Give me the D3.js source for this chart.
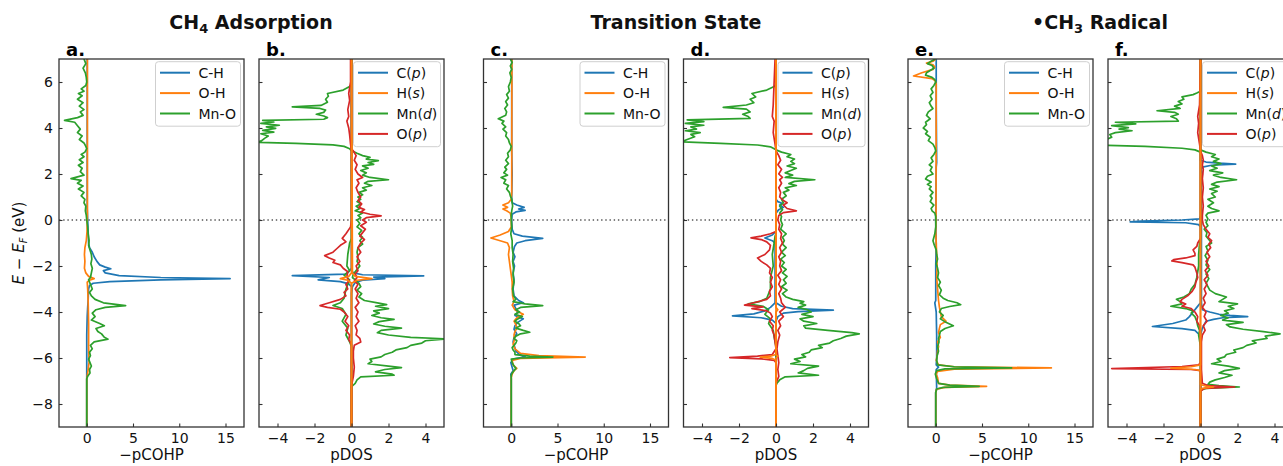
<!DOCTYPE html>
<html lang="en">
<head>
<meta charset="UTF-8">
<title>pCOHP and pDOS</title>
<script src="https://d3js.org/d3.v7.min.js"></script>
<style>
  body { margin: 0; background: #fff; }
  svg { display: block; font-family: "DejaVu Sans", sans-serif; }
</style>
</head>
<body>
<svg id="chart" width="1283" height="466"></svg>
<script>
// ---- axes / labels ----
const energyTicks = [-8, -6, -4, -2, 0, 2, 4, 6];
const cohpTicks = [0, 5, 10, 15];
const dosTicks = [-4, -2, 0, 2, 4];
const energyRange = [-9, 7];
const cohpRange = [-3, 17];
const dosRange = [-5, 5];
const panelLetters = ["a.", "b.", "c.", "d.", "e.", "f."];
const cohpLabels = ["C-H", "O-H", "Mn-O"];
const dosLabels = ["C", "H", "Mn", "O"];
const dosOrbitals = ["p", "s", "d", "p"];

// ---- CH4 adsorption: -pCOHP  [E, value] ----
const cohpAdsCH = [[7,0.05],[3,0.05],[0.5,0.05],[0,0.1],[-0.5,0.15],[-1,0.2],[-1.2,0.3],[-1.4,0.6],[-1.6,0.8],[-1.8,1.1],[-1.95,1.4],[-2.05,2],[-2.12,2.6],[-2.2,1.8],[-2.3,2],[-2.42,3.5],[-2.5,8],[-2.55,15.5],[-2.6,8],[-2.68,2.5],[-2.75,0.7],[-2.85,0.3],[-3,0.2],[-3.5,0.15],[-3.8,0.1],[-4.2,0.05],[-5,0],[-9,0]];
const cohpAdsOH = [[7,0.07],[0.3,0.07],[0,0.05],[-0.5,0.03],[-0.9,-0.05],[-1.2,-0.2],[-1.5,-0.25],[-1.8,-0.2],[-2.1,-0.25],[-2.3,-0.1],[-2.45,0.2],[-2.55,0.8],[-2.62,0.3],[-2.7,0.05],[-3,0.1],[-3.5,0.15],[-4.5,0.2],[-5.5,0.2],[-6.2,0.25],[-6.5,0.15],[-6.8,0.05],[-6.9,0],[-9,0]];
const cohpAdsMnO = [[7,-0.3],[6.8,-0.1],[6.6,-0.4],[6.4,-0.15],[6.2,-0.05],[6,0],[5.85,-0.1],[5.7,-0.6],[5.6,-0.3],[5.5,-0.9],[5.4,-0.5],[5.25,-1],[5.1,-0.4],[4.95,-0.8],[4.8,-0.3],[4.7,-0.7],[4.55,-0.4],[4.45,-1],[4.33,-2.4],[4.25,-1.3],[4.1,-1],[3.95,-0.7],[3.8,-1],[3.65,-0.5],[3.5,-0.8],[3.35,-0.3],[3.2,-0.1],[3.1,0],[2.95,-0.2],[2.85,-0.6],[2.75,-0.3],[2.62,-0.8],[2.5,-0.4],[2.38,-0.9],[2.25,-0.5],[2.1,-0.7],[1.95,-0.3],[1.8,-1.7],[1.72,-0.6],[1.6,-1],[1.48,-0.4],[1.35,-0.9],[1.2,-0.3],[1.05,-0.6],[0.9,-0.2],[0.75,-0.3],[0.6,-0.1],[0.4,-0.15],[0.2,-0.05],[0,0],[-0.3,0.1],[-0.6,0.15],[-0.9,0.25],[-1.1,0.2],[-1.3,0.35],[-1.5,0.5],[-1.7,0.55],[-1.9,0.45],[-2.1,0.6],[-2.3,0.5],[-2.5,0.4],[-2.6,0.2],[-2.8,0.4],[-3,0.6],[-3.15,0.3],[-3.3,0.5],[-3.45,0.9],[-3.6,1.8],[-3.72,4.2],[-3.8,2],[-3.9,1],[-4.05,0.6],[-4.2,0.9],[-4.35,0.5],[-4.5,1.4],[-4.6,1.9],[-4.72,1],[-4.85,1.2],[-4.95,1.6],[-5.1,1.9],[-5.18,2.3],[-5.3,0.8],[-5.45,0.4],[-5.6,0.6],[-5.75,0.3],[-5.9,0.4],[-6.05,0.2],[-6.2,0.35],[-6.35,0.5],[-6.5,0.3],[-6.65,0.35],[-6.8,0.1],[-6.9,0],[-9,0]];

// ---- CH4 adsorption: pDOS (spin up > 0, spin down < 0) ----
const dosAdsCUp = [[7,0],[-2.2,0],[-2.3,0.1],[-2.38,0.6],[-2.43,3.9],[-2.48,1.2],[-2.55,1.8],[-2.62,0.6],[-2.72,0.2],[-2.9,0.05],[-3.2,0],[-9,0]];
const dosAdsCDown = [[7,0],[-2.1,0],[-2.25,-0.15],[-2.35,-0.3],[-2.42,-3.2],[-2.5,-1.2],[-2.6,-1.8],[-2.68,-0.6],[-2.78,-0.15],[-2.9,0],[-9,0]];
const dosAdsHUp = [[7,0],[-2,0.05],[-2.3,0.05],[-2.45,0.2],[-2.55,1.1],[-2.62,0.3],[-2.75,0],[-9,0]];
const dosAdsHDown = [[7,0],[-2.3,0],[-2.45,-0.15],[-2.55,-0.6],[-2.62,-0.2],[-2.75,0],[-9,0]];
const dosAdsMnUp = [[7,0],[3.1,0],[3,0.05],[2.9,0.3],[2.8,0.6],[2.72,1],[2.65,0.8],[2.58,1.45],[2.5,0.9],[2.42,1.2],[2.35,0.6],[2.25,0.9],[2.15,0.5],[2.05,0.8],[1.95,0.6],[1.85,1],[1.75,2],[1.68,0.9],[1.6,0.7],[1.5,1.1],[1.4,0.6],[1.3,0.8],[1.2,0.4],[1.1,0.6],[1,0.35],[0.9,0.5],[0.8,0.3],[0.7,0.5],[0.6,0.25],[0.5,0.45],[0.4,0.2],[0.3,0.6],[0.2,0.35],[0.1,0.5],[0,0.3],[-0.15,0.45],[-0.3,0.3],[-0.45,0.55],[-0.6,0.4],[-0.75,0.6],[-0.9,0.45],[-1.05,0.6],[-1.2,0.35],[-1.4,0.3],[-1.6,0.35],[-1.8,0.3],[-2,0.45],[-2.2,0.25],[-2.35,0.1],[-2.5,0.05],[-2.6,0.2],[-2.75,0.4],[-2.9,0.5],[-3.05,0.3],[-3.2,0.55],[-3.35,0.4],[-3.5,0.7],[-3.6,1.4],[-3.68,1.9],[-3.75,1.3],[-3.85,2],[-3.95,1.2],[-4.05,1.5],[-4.15,1.1],[-4.25,1.6],[-4.32,2.3],[-4.42,1.5],[-4.52,1.2],[-4.62,1.8],[-4.7,2.7],[-4.8,1.6],[-4.9,1.4],[-5,2],[-5.1,3.2],[-5.17,5.2],[-5.25,4],[-5.35,3.8],[-5.45,3.2],[-5.55,3],[-5.65,2.4],[-5.75,2.2],[-5.85,1.8],[-5.95,1.6],[-6.05,1],[-6.15,1.1],[-6.25,0.9],[-6.35,2],[-6.42,2.7],[-6.5,1.8],[-6.6,1.3],[-6.7,2.2],[-6.75,2.3],[-6.82,0.5],[-6.95,0.3],[-7.1,0.2],[-7.25,0],[-9,0]];
const dosAdsMnDown = [[7,0],[5.9,0],[5.8,-0.1],[5.65,-0.45],[5.5,-1.3],[5.38,-1.25],[5.25,-1.4],[5.12,-1.3],[4.98,-1.65],[4.92,-3.2],[4.85,-1.7],[4.78,-1.4],[4.68,-1.5],[4.6,-1.9],[4.52,-1.5],[4.45,-1.3],[4.38,-1.5],[4.33,-4.8],[4.26,-4.2],[4.2,-4.9],[4.12,-3.9],[4.05,-4.6],[3.98,-4.1],[3.9,-4.8],[3.82,-4.2],[3.75,-4.9],[3.65,-4.5],[3.55,-4.7],[3.45,-4.85],[3.38,-5.1],[3.33,-3],[3.27,-1],[3.2,-0.4],[3.1,-0.1],[3,0],[-0.8,0],[-1,-0.1],[-1.5,-0.2],[-2,-0.25],[-2.2,-0.1],[-2.4,-0.4],[-2.6,-0.1],[-3,-0.3],[-3.4,-0.4],[-3.6,-0.6],[-3.72,-1],[-3.85,-0.5],[-4.1,-0.3],[-4.4,-0.5],[-4.7,-0.2],[-5,-0.3],[-5.3,-0.1],[-5.5,0],[-9,0]];
const dosAdsOUp = [[7,0],[3.1,0],[3,0.1],[2.8,0.25],[2.6,0.15],[2.4,0.3],[2.2,0.2],[2,0.35],[1.85,0.6],[1.75,0.3],[1.6,0.4],[1.4,0.25],[1.2,0.35],[1,0.5],[0.85,0.35],[0.7,0.55],[0.55,0.4],[0.45,0.7],[0.35,0.5],[0.25,1],[0.18,1.6],[0.1,0.8],[0,0.6],[-0.1,0.8],[-0.25,0.5],[-0.4,0.75],[-0.55,0.6],[-0.7,0.45],[-0.85,0.7],[-1,0.5],[-1.2,0.35],[-1.4,0.5],[-1.6,0.3],[-1.8,0.45],[-2,0.25],[-2.2,0.35],[-2.35,0.2],[-2.5,0.3],[-2.65,0.15],[-2.8,0.35],[-3,0.2],[-3.2,0.35],[-3.4,0.25],[-3.6,0.4],[-3.8,0.2],[-4,0.35],[-4.2,0.25],[-4.4,0.4],[-4.6,0.2],[-4.8,0.3],[-5,0.25],[-5.15,0.45],[-5.3,0.5],[-5.45,0.15],[-5.7,0.1],[-6,0.1],[-6.4,0.15],[-6.8,0.1],[-7.2,0],[-9,0]];
const dosAdsODown = [[7,-0.05],[6,-0.05],[5.5,-0.15],[5.2,-0.1],[4.8,-0.2],[4.5,-0.15],[4.3,-0.25],[4,-0.15],[3.7,-0.1],[3.3,-0.05],[3,0],[0,0],[-0.3,-0.05],[-0.6,-0.3],[-0.8,-0.5],[-0.95,-0.3],[-1.1,-0.6],[-1.25,-0.8],[-1.4,-1],[-1.55,-1.45],[-1.65,-1.2],[-1.75,-0.9],[-1.85,-1],[-1.95,-0.6],[-2.1,-0.45],[-2.25,-0.2],[-2.45,-0.25],[-2.65,-0.15],[-2.8,-0.3],[-3,-0.2],[-3.15,-0.4],[-3.3,-0.3],[-3.45,-0.6],[-3.6,-1.2],[-3.72,-1.7],[-3.8,-1.3],[-3.88,-0.6],[-4,-0.4],[-4.2,-0.2],[-4.4,-0.35],[-4.6,-0.15],[-4.8,-0.3],[-5,-0.1],[-5.2,-0.15],[-5.4,0],[-9,0]];

// ---- transition state: -pCOHP ----
const cohpTsCH = [[7,0.05],[3,0.05],[2,0.1],[1,0.05],[0.75,0.1],[0.65,0.6],[0.55,1.4],[0.48,0.8],[0.42,1.5],[0.35,0.5],[0.25,0.1],[0,0.05],[-0.4,0.1],[-0.6,0.3],[-0.7,1.2],[-0.8,3.4],[-0.9,1.5],[-1,0.6],[-1.15,0.35],[-1.4,0.2],[-1.6,0.4],[-1.8,0.2],[-2,0.35],[-2.3,0.2],[-2.6,0.3],[-3,0.2],[-3.3,0.3],[-3.5,0.8],[-3.6,1.3],[-3.7,0.3],[-3.85,0.5],[-4,0.7],[-4.15,0.4],[-4.3,1.3],[-4.45,0.7],[-4.6,0.4],[-4.75,0.3],[-4.95,0.6],[-5.1,0.3],[-5.3,0.2],[-5.5,0.35],[-5.7,0.5],[-5.85,0.9],[-5.95,1.5],[-6.05,0.2],[-6.2,-0.05],[-6.4,0.1],[-6.55,0.2],[-6.7,-0.05],[-6.9,0],[-9,0]];
const cohpTsOH = [[7,0.07],[1.2,0.05],[0.9,0],[0.75,-0.3],[0.65,-0.9],[0.55,-0.4],[0.48,-0.9],[0.4,-0.5],[0.3,-0.1],[0.1,0],[-0.3,0],[-0.5,-0.3],[-0.65,-1.2],[-0.78,-2.2],[-0.9,-1.2],[-1,-0.4],[-1.2,-0.2],[-1.5,-0.3],[-1.8,-0.2],[-2.1,-0.1],[-2.4,0],[-2.7,0.1],[-3,0.1],[-3.3,0.15],[-3.55,0.3],[-3.7,0.1],[-3.9,0.4],[-4,0.8],[-4.1,1.3],[-4.25,0.6],[-4.4,0.3],[-4.55,0.5],[-4.7,0.6],[-4.85,0.4],[-5,0.3],[-5.2,0.35],[-5.4,0.2],[-5.6,0.4],[-5.8,1],[-5.9,3],[-5.96,8],[-6.02,1],[-6.1,0.1],[-6.3,0.2],[-6.45,0.6],[-6.55,0.3],[-6.7,0.1],[-6.85,0],[-9,0]];
const cohpTsMnO = [[7,-0.1],[6.85,0.1],[6.7,-0.1],[6.55,0.05],[6.4,-0.15],[6.2,0],[6,-0.1],[5.8,-0.3],[5.6,-0.2],[5.45,-0.5],[5.3,-0.3],[5.15,-0.6],[5,-0.4],[4.85,-0.7],[4.7,-0.5],[4.55,-0.6],[4.4,-1.4],[4.3,-0.8],[4.2,-1],[4.05,-0.6],[3.95,-0.9],[3.8,-0.5],[3.65,-0.6],[3.5,-0.3],[3.35,-0.2],[3.2,0],[3.05,-0.1],[2.9,-0.4],[2.75,-0.3],[2.6,-0.6],[2.45,-0.3],[2.3,-0.7],[2.2,-0.5],[2.05,-0.8],[1.95,-0.4],[1.85,-1.1],[1.75,-0.6],[1.6,-0.8],[1.5,-0.3],[1.35,-0.5],[1.2,-0.2],[1.05,-0.1],[0.9,0.05],[0.75,0.1],[0.6,0.15],[0.4,0.05],[0.2,0],[0,0],[-0.3,0.05],[-0.6,-0.05],[-0.9,0.1],[-1.2,0.1],[-1.5,0.2],[-1.8,0.15],[-2.1,0.25],[-2.4,0.2],[-2.7,0.3],[-3,0.15],[-3.3,0.25],[-3.45,0.5],[-3.55,0.2],[-3.65,1.5],[-3.72,3.4],[-3.8,1],[-3.9,0.5],[-4,0.9],[-4.1,0.4],[-4.2,1.2],[-4.3,0.7],[-4.4,0.4],[-4.5,0.8],[-4.6,1],[-4.7,0.5],[-4.8,1.3],[-4.88,2],[-4.95,1],[-5.05,0.5],[-5.15,0.3],[-5.25,0.6],[-5.35,0.5],[-5.45,0.3],[-5.55,0.1],[-5.65,0.2],[-5.75,0.4],[-5.85,0.4],[-5.92,2],[-5.96,4.5],[-6,1],[-6.05,0],[-6.2,0.1],[-6.35,0.3],[-6.45,0.5],[-6.55,0.3],[-6.65,0.1],[-6.75,0],[-9,0]];

// ---- transition state: pDOS ----
const dosTsCUp = [[7,0],[0.9,0],[0.8,0.1],[0.72,0.35],[0.65,0.2],[0.55,0.4],[0.45,0.15],[0.3,0],[-3.6,0],[-3.75,0.3],[-3.85,0.9],[-3.92,3.1],[-3.98,1.2],[-4.05,0.4],[-4.2,0.1],[-4.4,0],[-9,0]];
const dosTsCDown = [[7,0],[-0.5,0],[-0.65,-0.2],[-0.78,-0.6],[-0.9,-0.2],[-1,-0.05],[-3.6,-0.05],[-3.8,-0.3],[-3.95,-0.6],[-4.08,-1.2],[-4.17,-2.35],[-4.25,-0.8],[-4.35,-0.2],[-4.5,0],[-9,0]];
const dosTsHUp = [[7,0],[-3.8,0],[-3.9,0.1],[-4,0],[-5.85,0],[-5.92,0.1],[-6,0],[-9,0]];
const dosTsHDown = [[7,0],[-5.85,0],[-5.92,-0.3],[-5.96,-0.85],[-6.02,-0.2],[-6.1,0],[-9,0]];
const dosTsMnUp = [[7,0],[3.05,0],[2.95,0.3],[2.85,0.8],[2.75,0.6],[2.65,1],[2.55,0.8],[2.45,1],[2.35,0.6],[2.25,1.1],[2.15,0.8],[2.05,0.5],[1.95,0.9],[1.85,0.5],[1.75,2.1],[1.68,1],[1.58,0.7],[1.5,1.1],[1.4,0.5],[1.3,0.7],[1.2,0.4],[1.05,0.55],[0.9,0.3],[0.75,0.4],[0.6,0.2],[0.45,0.35],[0.3,0.2],[0.15,0.3],[0,0.25],[-0.2,0.35],[-0.4,0.25],[-0.6,0.55],[-0.75,0.35],[-0.9,0.45],[-1.05,0.35],[-1.2,0.55],[-1.4,0.3],[-1.55,0.5],[-1.7,0.25],[-1.85,0.45],[-2,0.3],[-2.15,0.55],[-2.3,0.35],[-2.45,0.6],[-2.6,0.4],[-2.75,0.55],[-2.9,0.3],[-3.05,0.6],[-3.2,0.35],[-3.35,0.55],[-3.45,0.9],[-3.55,1.5],[-3.62,1.3],[-3.7,1.6],[-3.8,1.2],[-3.9,1.7],[-4,1.9],[-4.1,1.4],[-4.2,2],[-4.3,1.3],[-4.4,1.5],[-4.5,2.2],[-4.6,1.5],[-4.7,1.6],[-4.8,2.8],[-4.9,4.1],[-4.95,4.5],[-5.05,3.8],[-5.15,3.5],[-5.25,3.1],[-5.35,2.9],[-5.45,2.3],[-5.55,2.5],[-5.65,1.9],[-5.75,1.8],[-5.85,1.4],[-5.95,1.6],[-6.05,1],[-6.15,1.3],[-6.25,0.8],[-6.35,2.3],[-6.45,1.7],[-6.55,1.5],[-6.65,1.2],[-6.75,2.3],[-6.82,0.5],[-6.95,0.2],[-7.1,0.05],[-7.2,0],[-9,0]];
const dosTsMnDown = [[7,0],[5.9,0],[5.8,-0.1],[5.65,-0.5],[5.5,-1.3],[5.35,-1.1],[5.25,-1.4],[5.1,-1.2],[5,-1.6],[4.9,-2.85],[4.82,-1.6],[4.7,-1.4],[4.6,-1.8],[4.5,-1.5],[4.42,-1.4],[4.35,-4.8],[4.28,-3.9],[4.2,-4.9],[4.12,-3.9],[4.05,-4.6],[3.95,-4.3],[3.88,-4.9],[3.8,-4.1],[3.72,-4.6],[3.62,-4.4],[3.5,-4.8],[3.4,-5.1],[3.33,-3],[3.26,-1],[3.18,-0.3],[3.05,0],[-0.6,0],[-0.7,-0.05],[-1,-0.1],[-1.5,-0.2],[-2,-0.15],[-2.5,-0.3],[-3,-0.3],[-3.4,-0.5],[-3.55,-0.9],[-3.65,-1.5],[-3.75,-0.7],[-3.9,-0.4],[-4.1,-0.6],[-4.3,-0.3],[-4.5,-0.4],[-4.8,-0.15],[-5.1,-0.1],[-5.5,0],[-9,0]];
const dosTsOUp = [[7,0],[3,0],[2.8,0.15],[2.6,0.25],[2.4,0.1],[2.2,0.3],[2,0.15],[1.85,0.35],[1.75,0.2],[1.6,0.3],[1.4,0.15],[1.2,0.25],[1,0.2],[0.85,0.4],[0.75,0.6],[0.65,0.4],[0.5,0.6],[0.4,1.1],[0.32,0.4],[0.2,0.15],[0,0.1],[-0.2,0.2],[-0.4,0.15],[-0.6,0.3],[-0.8,0.25],[-1,0.35],[-1.2,0.2],[-1.4,0.3],[-1.6,0.15],[-1.8,0.25],[-2,0.2],[-2.2,0.3],[-2.4,0.1],[-2.6,0.25],[-2.8,0.15],[-3,0.3],[-3.2,0.15],[-3.4,0.25],[-3.6,0.3],[-3.8,0.5],[-4,0.2],[-4.2,0.4],[-4.4,0.15],[-4.6,0.25],[-4.8,0.1],[-5,0.2],[-5.3,0.1],[-5.6,0.05],[-5.9,0.1],[-6.2,0.15],[-6.5,0.1],[-6.8,0.15],[-7.1,0],[-9,0]];
const dosTsODown = [[7,-0.05],[5,-0.15],[4.5,-0.2],[4.3,-0.1],[3.8,-0.15],[3.3,-0.05],[3,0],[-0.5,0],[-0.6,-0.3],[-0.7,-0.8],[-0.78,-1.35],[-0.85,-0.8],[-0.95,-0.5],[-1.1,-0.3],[-1.3,-0.35],[-1.5,-0.6],[-1.65,-1],[-1.8,-0.8],[-1.95,-0.5],[-2.1,-0.3],[-2.3,-0.35],[-2.5,-0.2],[-2.7,-0.3],[-2.9,-0.2],[-3.1,-0.35],[-3.3,-0.3],[-3.45,-0.5],[-3.6,-1.2],[-3.7,-1.7],[-3.78,-0.7],[-3.85,-1.3],[-3.95,-0.5],[-4.05,-0.3],[-4.2,-0.2],[-4.4,-0.35],[-4.6,-0.15],[-4.8,-0.2],[-5,-0.1],[-5.3,-0.05],[-5.6,0],[-5.85,-0.2],[-5.92,-1],[-5.98,-2.5],[-6.04,-0.8],[-6.1,-0.1],[-6.2,0],[-9,0]];

// ---- CH3 radical: -pCOHP ----
const cohpRadCH = [[7,0.05],[5,0.05],[2.5,0.1],[2.3,0.05],[0,0],[-1,0.05],[-2,0],[-3.5,0],[-3.6,-0.1],[-4,0.05],[-5,0.1],[-6,0.1],[-6.3,0.05],[-6.4,0.3],[-6.5,0.05],[-7.3,0.1],[-7.5,0],[-9,0]];
const cohpRadOH = [[7,0],[6.9,-0.3],[6.82,-1],[6.75,-0.3],[6.65,-0.1],[6.55,-0.3],[6.4,-1.5],[6.26,-2.4],[6.15,-0.4],[6.05,-0.05],[5.9,0.05],[0,0.03],[-0.5,0],[-1,0.05],[-1.5,0.1],[-2,0.15],[-2.5,0.1],[-3,0.2],[-3.5,0.3],[-3.8,0.4],[-4.2,0.6],[-4.4,1.1],[-4.55,0.5],[-4.7,0.4],[-4.9,0.3],[-5.1,0.5],[-5.3,0.2],[-5.5,0.3],[-5.7,0.2],[-5.9,0.15],[-6.1,0.05],[-6.3,0.3],[-6.38,2],[-6.43,12.5],[-6.48,2],[-6.58,0.2],[-6.7,0.05],[-6.85,0.2],[-7.1,0.3],[-7.18,1.5],[-7.23,5.5],[-7.28,1],[-7.35,0.1],[-7.5,0],[-9,0]];
const cohpRadMnO = [[7,-0.05],[6.9,-0.5],[6.8,-0.9],[6.72,-0.4],[6.6,-0.2],[6.5,-0.6],[6.4,-1],[6.3,-1.1],[6.2,-0.4],[6.1,-0.1],[6,0],[5.85,-0.2],[5.7,-0.5],[5.55,-0.3],[5.4,-0.6],[5.25,-0.4],[5.1,-0.7],[4.95,-0.5],[4.85,-0.3],[4.7,-0.8],[4.55,-1],[4.4,-0.6],[4.25,-1.1],[4.15,-1],[4,-1.35],[3.85,-0.9],[3.75,-1.1],[3.6,-0.6],[3.45,-0.8],[3.3,-0.3],[3.15,-0.1],[3,0],[2.85,-0.2],[2.7,-0.5],[2.55,-0.3],[2.4,-0.7],[2.3,-0.4],[2.15,-0.6],[2,-0.3],[1.9,-0.9],[1.78,-1.1],[1.65,-0.5],[1.55,-0.9],[1.45,-0.5],[1.35,-0.7],[1.2,-0.3],[1.05,-0.6],[0.95,-0.4],[0.8,-0.6],[0.65,-0.2],[0.5,-0.5],[0.4,-0.4],[0.3,-0.1],[0.15,0],[0,0],[-0.3,0],[-0.6,-0.1],[-0.9,-0.3],[-1.1,-0.15],[-1.3,0.05],[-1.5,0.1],[-1.7,0.2],[-1.9,0.05],[-2.1,0.2],[-2.3,0.3],[-2.5,0.2],[-2.7,0.5],[-2.85,0.3],[-3.05,0.6],[-3.25,0.4],[-3.4,0.8],[-3.5,1.3],[-3.6,2.3],[-3.68,2.7],[-3.76,1.5],[-3.85,0.6],[-4,0.4],[-4.15,0.8],[-4.3,0.5],[-4.45,1.1],[-4.6,1.9],[-4.72,1],[-4.85,0.5],[-5,0.4],[-5.15,0.3],[-5.3,0.35],[-5.5,0.2],[-5.7,0.3],[-5.9,0.15],[-6.1,0.1],[-6.3,0.2],[-6.38,2],[-6.43,8.2],[-6.47,1],[-6.55,0.1],[-6.7,-0.05],[-6.9,0.1],[-7.1,0.3],[-7.18,1.5],[-7.23,4.7],[-7.28,0.8],[-7.35,0.1],[-7.5,0],[-9,0]];

// ---- CH3 radical: pDOS ----
const dosRadCUp = [[7,0],[2.6,0],[2.52,0.3],[2.47,1],[2.43,1.9],[2.38,0.6],[2.3,0.1],[2.2,0.05],[2,0.1],[1.6,0.05],[0,0.05],[-3.6,0.05],[-3.9,0.1],[-4,0.5],[-4.1,1],[-4.15,1.6],[-4.2,2.55],[-4.25,1.2],[-4.32,0.7],[-4.4,0.3],[-4.55,0.2],[-4.7,0.1],[-5,0],[-9,0]];
const dosRadCDown = [[7,0],[0.2,0],[0.05,-0.05],[0,-1],[-0.05,-3.2],[-0.08,-3.8],[-0.12,-0.8],[-0.2,-0.1],[-0.3,0],[-3.6,0],[-3.8,-0.2],[-4,-0.4],[-4.2,-0.6],[-4.35,-0.8],[-4.5,-1.5],[-4.63,-2.6],[-4.72,-1],[-4.8,-0.3],[-5,-0.05],[-5.2,0],[-9,0]];
const dosRadHUp = [[7,0],[-7.15,0],[-7.22,0.3],[-7.26,0.7],[-7.32,0.1],[-7.4,0],[-9,0]];
const dosRadHDown = [[7,0],[-6.3,0],[-6.38,-0.5],[-6.44,-1.6],[-6.5,-0.3],[-6.55,0],[-9,0]];
const dosRadMnUp = [[7,0],[3.05,0],[2.95,0.3],[2.85,0.8],[2.75,0.6],[2.65,1],[2.55,0.7],[2.45,1.1],[2.35,0.6],[2.25,0.9],[2.15,0.5],[2.05,1.2],[1.95,0.7],[1.85,1.1],[1.75,1.95],[1.65,0.9],[1.55,0.6],[1.45,1],[1.35,0.5],[1.25,0.9],[1.15,0.6],[1,0.8],[0.9,0.4],[0.75,0.7],[0.6,0.4],[0.5,0.6],[0.4,1],[0.3,0.4],[0.2,0.3],[0.05,0.4],[-0.1,0.3],[-0.25,0.4],[-0.4,0.2],[-0.55,0.35],[-0.7,0.3],[-0.85,0.45],[-1,0.6],[-1.15,0.3],[-1.35,0.4],[-1.55,0.25],[-1.75,0.4],[-1.95,0.3],[-2.15,0.5],[-2.35,0.3],[-2.55,0.45],[-2.75,0.3],[-2.9,0.4],[-3.05,0.5],[-3.2,0.8],[-3.35,1.4],[-3.45,1.2],[-3.55,1],[-3.65,2],[-3.75,1.5],[-3.85,1.8],[-3.95,1.3],[-4.05,1.5],[-4.15,1.1],[-4.25,1.5],[-4.35,1.2],[-4.45,2.3],[-4.55,1.4],[-4.65,1.6],[-4.75,2.3],[-4.85,3.4],[-4.95,4.3],[-5.05,3.5],[-5.15,3.6],[-5.25,2.8],[-5.35,3],[-5.45,2.5],[-5.55,2.3],[-5.65,1.8],[-5.75,1.9],[-5.85,1.4],[-5.95,1.3],[-6.05,0.9],[-6.15,1.1],[-6.25,0.6],[-6.35,1.5],[-6.45,2.1],[-6.55,1.3],[-6.65,1],[-6.75,1.7],[-6.85,1.3],[-6.95,0.8],[-7.05,0.5],[-7.15,0.4],[-7.2,1],[-7.26,2.1],[-7.32,0.3],[-7.4,0],[-9,0]];
const dosRadMnDown = [[7,0],[5.6,0],[5.52,-0.2],[5.45,-0.4],[5.35,-1],[5.25,-0.9],[5.15,-1.2],[5.05,-1],[4.95,-1.4],[4.85,-1.1],[4.75,-2.35],[4.68,-1.4],[4.6,-1.2],[4.5,-1.6],[4.4,-1.3],[4.3,-1.2],[4.25,-4.6],[4.18,-3.5],[4.1,-4.8],[4.02,-3.9],[3.95,-4.4],[3.88,-3.7],[3.8,-4.6],[3.72,-4.9],[3.6,-4.8],[3.5,-5.1],[3.35,-5.1],[3.25,-5.1],[3.2,-3],[3.12,-1],[3.05,-0.3],[2.95,0],[-0.8,0],[-1,-0.05],[-1.5,-0.1],[-2,-0.1],[-2.5,-0.2],[-2.8,-0.3],[-3,-0.5],[-3.2,-0.6],[-3.35,-0.9],[-3.45,-1.3],[-3.55,-1.1],[-3.65,-1],[-3.75,-1.6],[-3.85,-0.8],[-3.95,-0.4],[-4.05,-0.5],[-4.2,-0.3],[-4.4,-0.2],[-4.6,-0.15],[-4.8,-0.05],[-5,-0.1],[-5.5,0],[-9,0]];
const dosRadOUp = [[7,0],[3,0],[2.8,0.1],[2.6,0.15],[2.4,0.1],[2.2,0.15],[1.8,0.1],[1.4,0.15],[1,0.1],[0.6,0.15],[0.2,0.1],[0,0.1],[-0.2,0.15],[-0.4,0.3],[-0.6,0.5],[-0.75,0.4],[-0.9,0.6],[-1.05,0.45],[-1.2,0.55],[-1.4,0.35],[-1.6,0.5],[-1.8,0.3],[-2,0.45],[-2.2,0.25],[-2.4,0.4],[-2.6,0.2],[-2.8,0.35],[-3,0.2],[-3.2,0.3],[-3.4,0.15],[-3.6,0.25],[-3.8,0.1],[-4,0.3],[-4.2,0.2],[-4.4,0.35],[-4.6,0.15],[-4.8,0.25],[-5,0.1],[-5.3,0.05],[-6,0.05],[-6.5,0.05],[-7.1,0.1],[-7.2,0.4],[-7.26,1.85],[-7.32,0.2],[-7.45,0],[-9,0]];
const dosRadODown = [[7,0],[5,-0.05],[4.5,-0.15],[4.2,-0.1],[3.8,-0.15],[3.3,-0.05],[3,0],[-0.8,0],[-1,-0.15],[-1.15,-0.2],[-1.3,-0.4],[-1.45,-0.3],[-1.55,-0.3],[-1.65,-0.8],[-1.72,-1.45],[-1.78,-1.55],[-1.85,-1],[-1.95,-0.4],[-2.05,-0.3],[-2.3,-0.2],[-2.5,-0.15],[-2.7,-0.25],[-2.9,-0.3],[-3.1,-0.45],[-3.3,-0.7],[-3.45,-1],[-3.55,-1.1],[-3.65,-0.8],[-3.75,-1],[-3.85,-0.5],[-4,-0.3],[-4.2,-0.15],[-4.4,-0.2],[-4.6,-0.05],[-5,0],[-6.2,0],[-6.3,-0.1],[-6.37,-1],[-6.46,-4.8],[-6.5,-0.5],[-6.55,0],[-9,0]];

// ---- layout ----
const svg = d3.select("#chart");
const panelTop = 59, panelBottom = 427, panelWidth = 185;
const panelLefts = [59, 259, 483.5, 683.5, 908, 1108];
const colors = { C: "#1f77b4", H: "#ff7f0e", Mn: "#2ca02c", O: "#d62728" };
const frameColor = "#333";
const textColor = "#111";

const y = d3.scaleLinear().domain(energyRange).range([panelBottom, panelTop]);

const panels = [
  { kind: "cohp", series: [cohpAdsCH, cohpAdsOH, cohpAdsMnO] },
  { kind: "dos", up: [dosAdsCUp, dosAdsHUp, dosAdsMnUp, dosAdsOUp], down: [dosAdsCDown, dosAdsHDown, dosAdsMnDown, dosAdsODown] },
  { kind: "cohp", series: [cohpTsCH, cohpTsOH, cohpTsMnO] },
  { kind: "dos", up: [dosTsCUp, dosTsHUp, dosTsMnUp, dosTsOUp], down: [dosTsCDown, dosTsHDown, dosTsMnDown, dosTsODown] },
  { kind: "cohp", series: [cohpRadCH, cohpRadOH, cohpRadMnO] },
  { kind: "dos", up: [dosRadCUp, dosRadHUp, dosRadMnUp, dosRadOUp], down: [dosRadCDown, dosRadHDown, dosRadMnDown, dosRadODown] }
];

const cohpColors = [colors.C, colors.H, colors.Mn];
const dosColors = [colors.C, colors.H, colors.Mn, colors.O];

panels.forEach((p, i) => {
  const left = panelLefts[i];
  const x = d3.scaleLinear()
    .domain(p.kind === "cohp" ? cohpRange : dosRange)
    .range([left, left + panelWidth]);
  const g = svg.append("g");

  svg.append("clipPath").attr("id", "clip" + i)
    .append("rect")
    .attr("x", left).attr("y", panelTop)
    .attr("width", panelWidth).attr("height", panelBottom - panelTop);

  // fermi level
  g.append("line")
    .attr("x1", left).attr("x2", left + panelWidth)
    .attr("y1", y(0)).attr("y2", y(0))
    .attr("stroke", "#555").attr("stroke-width", 1.3)
    .attr("stroke-dasharray", "1.4,2.8");

  const line = d3.line().x(d => x(d[1])).y(d => y(d[0]));
  const curves = g.append("g").attr("clip-path", `url(#clip${i})`);

  let drawList = [];
  if (p.kind === "cohp") {
    drawList = [[p.series[0], colors.C], [p.series[1], colors.H], [p.series[2], colors.Mn]];
  } else {
    // C, Mn, O, then H on top
    [0, 2, 3, 1].forEach(k => {
      drawList.push([p.up[k], dosColors[k]]);
      drawList.push([p.down[k], dosColors[k]]);
    });
  }
  drawList.forEach(([data, c]) => {
    curves.append("path")
      .datum(data)
      .attr("d", line)
      .attr("fill", "none")
      .attr("stroke", c)
      .attr("stroke-width", 1.7)
      .attr("stroke-linejoin", "round");
  });

  // axes, ticks pointing inward
  const yAxis = d3.axisLeft(y).tickValues(energyTicks)
    .tickSizeInner(-3.5).tickSizeOuter(0).tickPadding(6);
  if (i > 0) yAxis.tickFormat("");
  const ya = svg.append("g").attr("transform", `translate(${left},0)`).call(yAxis);

  const xAxis = d3.axisBottom(x).tickValues(p.kind === "cohp" ? cohpTicks : dosTicks)
    .tickSizeInner(-3.5).tickSizeOuter(0).tickPadding(6);
  const xa = svg.append("g").attr("transform", `translate(0,${panelBottom})`).call(xAxis);

  [ya, xa].forEach(a => {
    a.select(".domain").remove();
    a.selectAll(".tick line").attr("stroke", frameColor).attr("stroke-width", 1.1);
    a.selectAll(".tick text")
      .attr("fill", textColor)
      .style("font-size", "14px")
      .style("font-family", "DejaVu Sans, sans-serif");
  });

  svg.append("rect")
    .attr("x", left).attr("y", panelTop)
    .attr("width", panelWidth).attr("height", panelBottom - panelTop)
    .attr("fill", "none").attr("stroke", frameColor).attr("stroke-width", 1.3);

  // x label
  svg.append("text")
    .attr("x", left + panelWidth / 2).attr("y", 460)
    .attr("text-anchor", "middle")
    .style("font-size", "15px").attr("fill", textColor)
    .text(p.kind === "cohp" ? "\u2212pCOHP" : "pDOS");

  // panel letter
  svg.append("text")
    .attr("x", left + 7).attr("y", 56)
    .style("font-size", "18px").style("font-weight", "bold")
    .text(panelLetters[i]);

  // legend
  const nItems = p.kind === "cohp" ? 3 : 4;
  const legW = p.kind === "cohp" ? 85 : 87;
  const legH = p.kind === "cohp" ? 64.5 : 85;
  const lx = left + panelWidth - 3.5 - legW, ly = panelTop + 2.7;
  const leg = svg.append("g");
  leg.append("rect")
    .attr("x", lx).attr("y", ly).attr("width", legW).attr("height", legH)
    .attr("rx", 3)
    .attr("fill", "#fff").attr("fill-opacity", 0.85)
    .attr("stroke", "#cfcfcf").attr("stroke-width", 1);
  d3.range(nItems).forEach(k => {
    const ry = ly + 11 + k * 20.4;
    const c = p.kind === "cohp" ? cohpColors[k] : dosColors[k];
    leg.append("line")
      .attr("x1", lx + 4.5).attr("x2", lx + 34.5)
      .attr("y1", ry).attr("y2", ry)
      .attr("stroke", c).attr("stroke-width", 2);
    const t = leg.append("text")
      .attr("x", lx + 43).attr("y", ry + 5)
      .style("font-size", "14px").attr("fill", textColor);
    if (p.kind === "cohp") {
      t.text(cohpLabels[k]);
    } else {
      t.append("tspan").text(dosLabels[k] + "(");
      t.append("tspan").style("font-style", "italic").text(dosOrbitals[k]);
      t.append("tspan").text(")");
    }
  });
});

// y axis label
const yl = svg.append("text")
  .attr("transform", "translate(24,243) rotate(-90)")
  .attr("text-anchor", "middle")
  .style("font-size", "15px").attr("fill", textColor);
yl.append("tspan").style("font-style", "italic").text("E");
yl.append("tspan").text(" \u2212 ");
yl.append("tspan").style("font-style", "italic").text("E");
yl.append("tspan").style("font-style", "italic").style("font-size", "10px").attr("dy", 3).text("F");
yl.append("tspan").attr("dy", -3).text(" (eV)");

// group titles: [before, subscript, after]
const titleCentres = [251, 676, 1100];
const titleParts = [["CH", "4", " Adsorption"], ["Transition State", "", ""], ["\u2022CH", "3", " Radical"]];
titleParts.forEach(([a, sub, b], k) => {
  const t = svg.append("text")
    .attr("x", titleCentres[k]).attr("y", 28.5)
    .attr("text-anchor", "middle")
    .attr("fill", textColor)
    .style("font-size", "19px").style("font-weight", "bold");
  t.append("tspan").text(a);
  if (sub) {
    t.append("tspan").style("font-size", "13px").attr("dy", 4).text(sub);
    t.append("tspan").attr("dy", -4).text(b);
  }
});
</script>
</body>
</html>
